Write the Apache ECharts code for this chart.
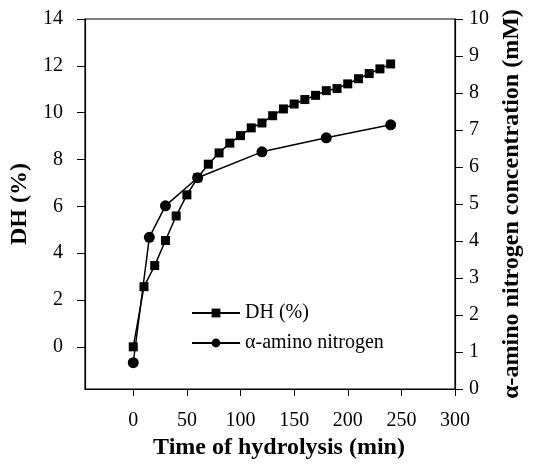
<!DOCTYPE html>
<html>
<head>
<meta charset="utf-8">
<script src="https://cdn.jsdelivr.net/npm/echarts@6/dist/echarts.min.js"></script>
<style>
  html, body { margin: 0; padding: 0; background: #fff; }
  #chart { width: 534px; height: 468px; }
</style>
</head>
<body>
<div id="chart"></div>
<script>
// 时间 (min)
const dhTime = [0, 10, 20, 30, 40, 50, 60, 70, 80, 90, 100, 110, 120, 130, 140, 150, 160, 170, 180, 190, 200, 210, 220, 230, 240]
const dhValues = [0, 2.57, 3.47, 4.54, 5.59, 6.49, 7.22, 7.8, 8.28, 8.7, 9.02, 9.35, 9.56, 9.87, 10.16, 10.37, 10.56, 10.74, 10.94, 11.03, 11.23, 11.45, 11.67, 11.87, 12.08]

const aminoTime = [0, 15, 30, 60, 120, 180, 240]
const aminoValues = [0.71, 4.1, 4.95, 5.71, 6.41, 6.79, 7.14]

// 刻度
const xTicks = [0, 50, 100, 150, 200, 250, 300]
const dhTicks = [0, 2, 4, 6, 8, 10, 12, 14]

const font = "'Liberation Serif', 'Times New Roman', serif"

const chart = echarts.init(document.getElementById('chart'))

const option = {
  animation: false,
  backgroundColor: '#fff',
  textStyle: { fontFamily: font, color: '#000' },
  grid: {
    left: 85,
    right: 79,
    top: 19,
    bottom: 79,
    show: true,
    borderColor: '#000',
    borderWidth: 1.2
  },
  legend: {
    orient: 'vertical',
    left: 186,
    top: 298,
    itemWidth: 48,
    itemHeight: 11,
    itemGap: 10,
    textStyle: { fontFamily: font, fontSize: 20, color: '#000' },
    data: ['DH (%)', 'α-amino nitrogen']
  },
  xAxis: {
    type: 'value',
    min: -45,
    max: 300,
    name: 'Time of hydrolysis (min)',
    nameLocation: 'middle',
    nameGap: 42,
    nameTextStyle: { fontFamily: font, fontSize: 24, fontWeight: 'bold', color: '#000', padding: [0, 0, 0, 18] },
    splitLine: { show: false },
    axisLine: { onZero: false, lineStyle: { color: '#000', width: 1.2 } },
    axisTick: { length: 7, customValues: xTicks, lineStyle: { color: '#000' } },
    axisLabel: { customValues: xTicks, margin: 22, fontSize: 20, color: '#000', fontFamily: font }
  },
  yAxis: [{
    type: 'value',
    min: -1.8,
    max: 14,
    position: 'left',
    name: 'DH (%)',
    nameLocation: 'middle',
    nameGap: 51,
    nameTextStyle: { fontFamily: font, fontSize: 24, fontWeight: 'bold', color: '#000' },
    splitLine: { show: false },
    axisLine: { show: true, onZero: false, lineStyle: { color: '#000', width: 1.2 } },
    axisTick: { length: 8, customValues: dhTicks, lineStyle: { color: '#000' } },
    axisLabel: { customValues: dhTicks, margin: 22, fontSize: 20, color: '#000', fontFamily: font }
  }, {
    type: 'value',
    min: 0,
    max: 10,
    interval: 1,
    position: 'right',
    name: 'α-amino nitrogen concentration (mM)',
    nameLocation: 'middle',
    nameGap: 43,
    nameRotate: 90,
    nameTextStyle: { fontFamily: font, fontSize: 24, fontWeight: 'bold', color: '#000' },
    splitLine: { show: false },
    axisLine: { show: true, onZero: false, lineStyle: { color: '#000', width: 1.2 } },
    axisTick: { length: 8, lineStyle: { color: '#000' } },
    axisLabel: { margin: 14, fontSize: 20, color: '#000', fontFamily: font }
  }],
  series: [{
    name: 'DH (%)',
    type: 'line',
    yAxisIndex: 0,
    data: dhTime.map((t, i) => [t, dhValues[i]]),
    symbol: 'rect',
    symbolSize: 9,
    itemStyle: { color: '#000' },
    lineStyle: { color: '#000', width: 1.5 }
  }, {
    name: 'α-amino nitrogen',
    type: 'line',
    yAxisIndex: 1,
    data: aminoTime.map((t, i) => [t, aminoValues[i]]),
    symbol: 'circle',
    symbolSize: 11,
    itemStyle: { color: '#000' },
    lineStyle: { color: '#000', width: 1.5 }
  }]
}

chart.setOption(option)
</script>
</body>
</html>
